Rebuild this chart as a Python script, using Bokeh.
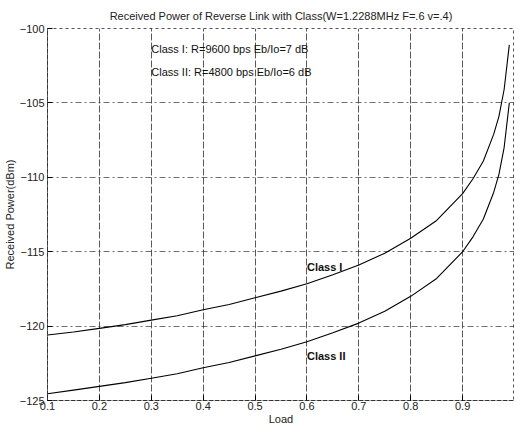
from bokeh.plotting import figure
from bokeh.models import Range1d, FixedTicker, Label
from bokeh.embed import file_html
from bokeh.resources import INLINE

# ---- data ----
load = [0.10, 0.15, 0.20, 0.25, 0.30, 0.35, 0.40, 0.45, 0.50, 0.55, 0.60,
        0.65, 0.70, 0.75, 0.80, 0.85, 0.90, 0.92, 0.94, 0.96, 0.97, 0.98, 0.99]
class1_dbm = [-120.6, -120.4, -120.15, -119.9, -119.6, -119.3, -118.9, -118.55,
              -118.1, -117.65, -117.15, -116.55, -115.9, -115.1, -114.1, -112.9,
              -111.1, -110.1, -108.9, -107.1, -105.9, -104.1, -101.1]
class2_dbm = [-124.55, -124.3, -124.05, -123.8, -123.5, -123.2, -122.8, -122.45,
              -122.0, -121.55, -121.05, -120.45, -119.8, -119.0, -118.0, -116.8,
              -115.0, -114.0, -112.8, -111.0, -109.8, -108.0, -105.0]
x_ticks = [0.1, 0.2, 0.3, 0.4, 0.5, 0.6, 0.7, 0.8, 0.9]
y_ticks = [-125, -120, -115, -110, -105, -100]

title_text = "Received Power of Reverse Link with Class(W=1.2288MHz F=.6 v=.4)"
x_label = "Load"
y_label = "Received Power(dBm)"
note_texts = ["Class I: R=9600 bps Eb/Io=7 dB", "Class II: R=4800 bps Eb/Io=6 dB"]
note_x = [0.3, 0.3]
note_y = [-101.4, -102.9]
curve_names = ["Class I", "Class II"]
curve_label_x = [0.6, 0.6]
curve_label_y = [-116.0, -122.0]

FONT = "Liberation Sans"

p = figure(width=514, height=427, output_backend="svg", toolbar_location=None,
           x_range=Range1d(0.1, 1.0), y_range=Range1d(-125, -100),
           min_border_left=10, min_border_right=0, min_border_top=4, min_border_bottom=0)

p.title.text = title_text
p.title.align = "center"
p.title.text_font = FONT
p.title.text_font_size = "11px"
p.title.text_font_style = "normal"
p.title.text_color = "#222222"
p.title.standoff = 14

p.background_fill_color = "white"
p.border_fill_color = "white"
p.outline_line_color = "#555555"
p.outline_line_dash = "3 3"
p.outline_line_width = 1

for ax in (p.xaxis[0], p.yaxis[0]):
    ax.axis_line_color = "#333333"
    ax.axis_line_dash = "4 2"
    ax.major_tick_in = 5
    ax.major_tick_out = 0
    ax.minor_tick_line_color = None
    ax.major_label_text_font = FONT
    ax.major_label_text_font_size = "11px"
    ax.major_label_text_color = "#222222"
    ax.axis_label_text_font = FONT
    ax.axis_label_text_font_size = "11px"
    ax.axis_label_text_font_style = "normal"
    ax.axis_label_text_color = "#222222"
p.xaxis.major_label_standoff = 1
p.xaxis.axis_label_standoff = 0
p.yaxis.major_label_standoff = 3
p.yaxis.axis_label_standoff = 1

p.xaxis.ticker = FixedTicker(ticks=x_ticks)
p.yaxis.ticker = FixedTicker(ticks=y_ticks)
p.xaxis.axis_label = x_label
p.yaxis.axis_label = y_label

p.xgrid.ticker = FixedTicker(ticks=x_ticks)
p.ygrid.ticker = FixedTicker(ticks=y_ticks)
p.xgrid.grid_line_color = "#222222"
p.xgrid.grid_line_dash = "7 2"
p.xgrid.grid_line_alpha = 0.75
p.ygrid.grid_line_color = "#333333"
p.ygrid.grid_line_dash = "6 3 2 3"
p.ygrid.grid_line_alpha = 0.7

p.line(load, class1_dbm, line_color="black", line_width=1.1)
p.line(load, class2_dbm, line_color="black", line_width=1.1)

for t, x, y in zip(note_texts, note_x, note_y):
    p.add_layout(Label(x=x, y=y, text=t, text_font=FONT, text_font_size="11px",
                       text_baseline="middle", text_align="left", text_color="#111111"))
for t, x, y in zip(curve_names, curve_label_x, curve_label_y):
    p.add_layout(Label(x=x, y=y, text=t, text_font=FONT, text_font_size="11px",
                       text_font_style="bold", text_baseline="middle", text_align="left",
                       text_color="#111111"))

open("out.html", "w").write(file_html(p, INLINE))
